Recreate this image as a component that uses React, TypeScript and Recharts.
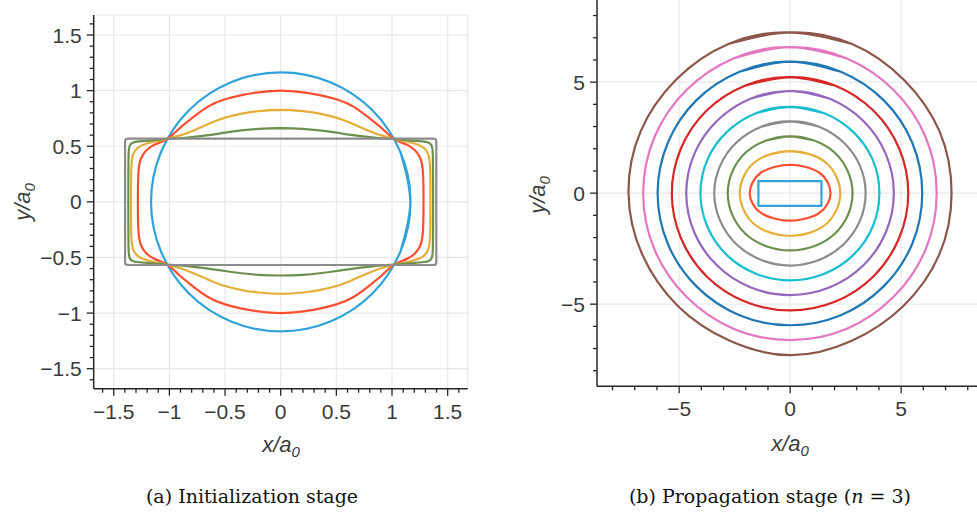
import React from 'react';
import { ComposedChart, Line, XAxis, YAxis, CartesianGrid } from 'recharts';

type Pt = [number, number];

// ---------- Panel (a): initialization stage ----------
const leftXTicksMajor = [-1.5, -1, -0.5, 0, 0.5, 1, 1.5];
const leftTicksAll = [
  -1.6, -1.5, -1.4, -1.3, -1.2, -1.1, -1, -0.9, -0.8, -0.7, -0.6, -0.5, -0.4, -0.3, -0.2, -0.1, 0,
  0.1, 0.2, 0.3, 0.4, 0.5, 0.6, 0.7, 0.8, 0.9, 1, 1.1, 1.2, 1.3, 1.4, 1.5, 1.6,
];
const leftDomain: [number, number] = [-1.68, 1.68];
const leftGrid = [-1.5, -1, -0.5, 0, 0.5, 1, 1.5, 1.68];

const leftBlue: Pt[] = [
  [1.076, -0.446], [1.165, 0], [1.076, 0.446], [0.824, 0.824], [0.446, 1.076], [0, 1.165],
  [-0.446, 1.076], [-0.824, 0.824], [-1.076, 0.446], [-1.165, 0], [-1.076, -0.446],
  [-0.824, -0.824], [-0.446, -1.076], [0, -1.165], [0.446, -1.076], [0.824, -0.824],
  [1.076, -0.446], [1.165, 0], [1.076, 0.446],
];

const leftRed: Pt[] = [
  [-0.2, 0.985], [0, 1.0], [0.2, 0.985], [0.35, 0.96], [0.5, 0.922], [0.65, 0.858], [0.8, 0.75],
  [0.91, 0.66], [1.02, 0.565], [1.13, 0.515], [1.21, 0.46], [1.255, 0.39], [1.275, 0.3],
  [1.282, 0.15], [1.283, 0], [1.282, -0.15], [1.275, -0.3], [1.255, -0.39], [1.21, -0.46],
  [1.13, -0.515], [1.02, -0.565], [0.91, -0.66], [0.8, -0.75], [0.65, -0.858], [0.5, -0.922],
  [0.35, -0.96], [0.2, -0.985], [0, -1.0], [-0.2, -0.985], [-0.35, -0.96], [-0.5, -0.922],
  [-0.65, -0.858], [-0.8, -0.75], [-0.91, -0.66], [-1.02, -0.565], [-1.13, -0.515],
  [-1.21, -0.46], [-1.255, -0.39], [-1.275, -0.3], [-1.282, -0.15], [-1.283, 0],
  [-1.282, 0.15], [-1.275, 0.3], [-1.255, 0.39], [-1.21, 0.46], [-1.13, 0.515],
  [-1.02, 0.565], [-0.91, 0.66], [-0.8, 0.75], [-0.65, 0.858], [-0.5, 0.922], [-0.35, 0.96],
  [-0.2, 0.985], [0, 1.0], [0.2, 0.985],
];

const leftYellow: Pt[] = [
  [-0.2, 0.815], [0, 0.827], [0.2, 0.815], [0.35, 0.793], [0.5, 0.757], [0.65, 0.7],
  [0.8, 0.635], [0.91, 0.595], [1.02, 0.565], [1.12, 0.545], [1.21, 0.522], [1.285, 0.485],
  [1.328, 0.42], [1.342, 0.3], [1.345, 0.15], [1.345, 0], [1.345, -0.15], [1.342, -0.3],
  [1.328, -0.42], [1.285, -0.485], [1.21, -0.522], [1.12, -0.545], [1.02, -0.565],
  [0.91, -0.595], [0.8, -0.635], [0.65, -0.7], [0.5, -0.757], [0.35, -0.793], [0.2, -0.815],
  [0, -0.827], [-0.2, -0.815], [-0.35, -0.793], [-0.5, -0.757], [-0.65, -0.7], [-0.8, -0.635],
  [-0.91, -0.595], [-1.02, -0.565], [-1.12, -0.545], [-1.21, -0.522], [-1.285, -0.485],
  [-1.328, -0.42], [-1.342, -0.3], [-1.345, -0.15], [-1.345, 0], [-1.345, 0.15],
  [-1.342, 0.3], [-1.328, 0.42], [-1.285, 0.485], [-1.21, 0.522], [-1.12, 0.545],
  [-1.02, 0.565], [-0.91, 0.595], [-0.8, 0.635], [-0.65, 0.7], [-0.5, 0.757], [-0.35, 0.793],
  [-0.2, 0.815], [0, 0.827], [0.2, 0.815],
];

const leftGreen: Pt[] = [
  [-0.2, 0.656], [0, 0.662], [0.2, 0.656], [0.35, 0.642], [0.5, 0.622], [0.65, 0.6],
  [0.8, 0.582], [0.91, 0.572], [1.02, 0.565], [1.15, 0.553], [1.27, 0.543], [1.33, 0.532],
  [1.356, 0.505], [1.366, 0.44], [1.368, 0.3], [1.369, 0.15], [1.369, 0], [1.369, -0.15],
  [1.368, -0.3], [1.366, -0.44], [1.356, -0.505], [1.33, -0.532], [1.27, -0.543],
  [1.15, -0.553], [1.02, -0.565], [0.91, -0.572], [0.8, -0.582], [0.65, -0.6], [0.5, -0.622],
  [0.35, -0.642], [0.2, -0.656], [0, -0.662], [-0.2, -0.656], [-0.35, -0.642], [-0.5, -0.622],
  [-0.65, -0.6], [-0.8, -0.582], [-0.91, -0.572], [-1.02, -0.565], [-1.15, -0.553],
  [-1.27, -0.543], [-1.33, -0.532], [-1.356, -0.505], [-1.366, -0.44], [-1.368, -0.3],
  [-1.369, -0.15], [-1.369, 0], [-1.369, 0.15], [-1.368, 0.3], [-1.366, 0.44],
  [-1.356, 0.505], [-1.33, 0.532], [-1.27, 0.543], [-1.15, 0.553], [-1.02, 0.565],
  [-0.91, 0.572], [-0.8, 0.582], [-0.65, 0.6], [-0.5, 0.622], [-0.35, 0.642], [-0.2, 0.656],
  [0, 0.662], [0.2, 0.656],
];

const leftGray: Pt[] = [
  [-1.375, 0.568], [1.375, 0.568], [1.393, 0.562], [1.398, 0.545], [1.398, -0.545],
  [1.393, -0.562], [1.375, -0.568], [-1.375, -0.568], [-1.393, -0.562], [-1.398, -0.545],
  [-1.398, 0.545], [-1.393, 0.562], [-1.375, 0.568],
];

// ---------- Panel (b): propagation stage ----------
const rightTicksMajor = [-5, 0, 5];
const rightTicksAll = [-8, -7, -6, -5, -4, -3, -2, -1, 0, 1, 2, 3, 4, 5, 6, 7, 8];
const rightDomain: [number, number] = [-8.7, 8.7];
const rightGrid = [-5, 0, 5];

const rRect: Pt[] = [[-1.43, 0.54], [1.41, 0.54], [1.41, -0.57], [-1.43, -0.57], [-1.43, 0.54]];
const rOrange: Pt[] = [
  [-0.71, 1.18], [0, 1.28], [0.71, 1.18], [1.32, 0.92], [1.69, 0.49], [1.82, 0], [1.69, -0.48],
  [1.32, -0.89], [0.71, -1.14], [0, -1.24], [-0.71, -1.14], [-1.32, -0.89], [-1.69, -0.48],
  [-1.82, 0], [-1.69, 0.49], [-1.32, 0.92], [-0.71, 1.18], [0, 1.28], [0.71, 1.18],
];
const rYellow: Pt[] = [
  [-0.87, 1.76], [0, 1.89], [0.87, 1.76], [1.62, 1.37], [2.09, 0.73], [2.26, 0], [2.09, -0.74],
  [1.62, -1.39], [0.87, -1.79], [0, -1.93], [-0.87, -1.79], [-1.63, -1.39], [-2.1, -0.74],
  [-2.27, 0], [-2.1, 0.73], [-1.63, 1.37], [-0.87, 1.76], [0, 1.89], [0.87, 1.76],
];
const rGreen: Pt[] = [
  [-1.08, 2.37], [0, 2.56], [1.08, 2.37], [2.0, 1.83], [2.6, 0.98], [2.81, 0], [2.6, -0.99],
  [2.0, -1.84], [1.08, -2.39], [0, -2.58], [-1.08, -2.39], [-2.0, -1.84], [-2.6, -0.99],
  [-2.81, 0], [-2.6, 0.98], [-2.0, 1.83], [-1.08, 2.37], [0, 2.56], [1.08, 2.37],
];
const rGray: Pt[] = [
  [-1.3, 2.99], [0, 3.23], [1.3, 2.99], [2.4, 2.29], [3.14, 1.24], [3.4, 0], [3.14, -1.25],
  [2.4, -2.31], [1.3, -3.01], [0, -3.26], [-1.3, -3.01], [-2.41, -2.31], [-3.15, -1.25],
  [-3.42, 0], [-3.15, 1.24], [-2.41, 2.29], [-1.3, 2.99], [0, 3.23], [1.3, 2.99],
];
const rCyan: Pt[] = [
  [-1.54, 3.6], [0, 3.89], [1.54, 3.6], [2.85, 2.75], [3.72, 1.5], [4.02, 0], [3.72, -1.5],
  [2.85, -2.78], [1.54, -3.63], [0, -3.93], [-1.54, -3.63], [-2.86, -2.78], [-3.73, -1.5],
  [-4.04, 0], [-3.73, 1.5], [-2.86, 2.75], [-1.54, 3.6], [0, 3.89], [1.54, 3.6],
];
const rPurple: Pt[] = [
  [-1.79, 4.25], [0, 4.6], [1.79, 4.25], [3.3, 3.25], [4.31, 1.76], [4.67, 0], [4.31, -1.76],
  [3.3, -3.25], [1.79, -4.24], [0, -4.59], [-1.79, -4.24], [-3.3, -3.25], [-4.32, -1.76],
  [-4.68, 0], [-4.32, 1.76], [-3.3, 3.25], [-1.79, 4.25], [0, 4.6], [1.79, 4.25],
];
const rRed: Pt[] = [
  [-2.04, 4.84], [0, 5.23], [2.04, 4.84], [3.76, 3.71], [4.91, 2.01], [5.32, 0], [4.91, -2.02],
  [3.76, -3.74], [2.04, -4.88], [0, -5.28], [-2.04, -4.88], [-3.77, -3.74], [-4.92, -2.02],
  [-5.33, 0], [-4.92, 2.01], [-3.77, 3.71], [-2.04, 4.84], [0, 5.23], [2.04, 4.84],
];
const rBlue: Pt[] = [
  [-2.28, 5.47], [0, 5.92], [2.28, 5.47], [4.21, 4.19], [5.5, 2.27], [5.95, 0], [5.5, -2.28],
  [4.21, -4.2], [2.28, -5.5], [0, -5.95], [-2.28, -5.5], [-4.22, -4.2], [-5.51, -2.28],
  [-5.97, 0], [-5.51, 2.27], [-4.22, 4.19], [-2.28, 5.47], [0, 5.92], [2.28, 5.47],
];
const rPink: Pt[] = [
  [-2.53, 6.08], [0, 6.58], [2.53, 6.08], [4.66, 4.65], [6.1, 2.53], [6.6, 0], [6.1, -2.54],
  [4.66, -4.67], [2.53, -6.12], [0, -6.62], [-2.53, -6.12], [-4.67, -4.67], [-6.11, -2.54],
  [-6.62, 0], [-6.11, 2.53], [-4.67, 4.65], [-2.53, 6.08], [0, 6.58], [2.53, 6.08],
];
const rBrown: Pt[] = [
  [-2.78, 6.72], [0, 7.24], [2.79, 6.72], [5.13, 5.1], [6.73, 2.78], [7.27, 0], [6.72, -2.76],
  [5.1, -5.08], [2.75, -6.66], [0, -7.3], [-2.74, -6.64], [-5.06, -5.08], [-6.68, -2.72],
  [-7.28, 0], [-6.74, 2.77], [-5.13, 5.12], [-2.78, 6.72], [0, 7.24], [2.79, 6.72],
];

type Series = { id: string; color: string; curve: 'natural' | 'linear'; pts: Pt[] };

const leftSeries: Series[] = [
  { id: 'l1', color: '#30a2da', curve: 'natural', pts: leftBlue },
  { id: 'l2', color: '#fc4f30', curve: 'natural', pts: leftRed },
  { id: 'l3', color: '#e5ae38', curve: 'natural', pts: leftYellow },
  { id: 'l4', color: '#6d904f', curve: 'natural', pts: leftGreen },
  { id: 'l5', color: '#8b8b8b', curve: 'linear', pts: leftGray },
];

const rightSeries: Series[] = [
  { id: 'r1', color: '#30a2da', curve: 'linear', pts: rRect },
  { id: 'r2', color: '#fc4f30', curve: 'natural', pts: rOrange },
  { id: 'r3', color: '#e5ae38', curve: 'natural', pts: rYellow },
  { id: 'r4', color: '#6d904f', curve: 'natural', pts: rGreen },
  { id: 'r5', color: '#8b8b8b', curve: 'natural', pts: rGray },
  { id: 'r6', color: '#17becf', curve: 'natural', pts: rCyan },
  { id: 'r7', color: '#9467bd', curve: 'natural', pts: rPurple },
  { id: 'r8', color: '#d62728', curve: 'natural', pts: rRed },
  { id: 'r9', color: '#1f77b4', curve: 'natural', pts: rBlue },
  { id: 'r10', color: '#e377c2', curve: 'natural', pts: rPink },
  { id: 'r11', color: '#8c564b', curve: 'natural', pts: rBrown },
];

const SANS = '"Liberation Sans", Arial, Helvetica, sans-serif';
const SERIF = '"DejaVu Serif", "Liberation Serif", serif';
const AXIS = '#262626';
const LABEL = '#3a3a3a';

const fmt = (v: number) => (v < 0 ? '\u2212' + String(Math.abs(v)) : String(v));
const toPts = (arr: Pt[]) => arr.map(([x, y]) => ({ x, y }));

const XTick = (props: any) => {
  const { x, y, payload, majors } = props;
  const major = majors.includes(payload.value);
  return (
    <g>
      <line x1={x} y1={y} x2={x} y2={y + (major ? 7 : 4)} stroke={AXIS} strokeWidth={1.3} />
      {major && (
        <text x={x} y={y + 30} textAnchor="middle" fontSize={21} fill={LABEL} fontFamily={SANS}>
          {fmt(payload.value)}
        </text>
      )}
    </g>
  );
};

const YTick = (props: any) => {
  const { x, y, payload, majors } = props;
  const major = majors.includes(payload.value);
  return (
    <g>
      <line x1={x} y1={y} x2={x - (major ? 7 : 4)} y2={y} stroke={AXIS} strokeWidth={1.3} />
      {major && (
        <text x={x - 12} y={y + 7.5} textAnchor="end" fontSize={21} fill={LABEL} fontFamily={SANS}>
          {fmt(payload.value)}
        </text>
      )}
    </g>
  );
};

type PanelProps = {
  left: number;
  width: number;
  margin: { top: number; right: number; bottom: number; left: number };
  yWidth: number;
  domain: [number, number];
  ticks: number[];
  majors: number[];
  grid: number[];
  series: Series[];
};

const Panel = ({ left, width, margin, yWidth, domain, ticks, majors, grid, series }: PanelProps) => (
  <div style={{ position: 'absolute', left, top: 0 }}>
    <ComposedChart width={width} height={512} margin={margin}>
      <CartesianGrid stroke="#e8e8e8" strokeWidth={1.2} horizontalValues={grid} verticalValues={grid} />
      <XAxis
        type="number"
        dataKey="x"
        domain={domain}
        allowDataOverflow
        ticks={ticks}
        interval={0}
        tickSize={0}
        tickMargin={0}
        height={30}
        axisLine={{ stroke: AXIS, strokeWidth: 1.5 }}
        tickLine={false}
        tick={<XTick majors={majors} />}
      />
      <YAxis
        type="number"
        dataKey="y"
        domain={domain}
        allowDataOverflow
        ticks={ticks}
        interval={0}
        tickSize={0}
        tickMargin={0}
        width={yWidth}
        axisLine={{ stroke: AXIS, strokeWidth: 1.5 }}
        tickLine={false}
        tick={<YTick majors={majors} />}
      />
      {series.map((s) => (
        <Line
          key={s.id}
          data={toPts(s.pts)}
          dataKey="y"
          type={s.curve}
          stroke={s.color}
          strokeWidth={2.2}
          strokeLinejoin="round"
          strokeLinecap="round"
          dot={false}
          activeDot={false}
          isAnimationActive={false}
        />
      ))}
    </ComposedChart>
  </div>
);

const AxisLabel = ({ cx, cy, axis, rotate }: { cx: number; cy: number; axis: string; rotate?: boolean }) => (
  <div
    style={{
      position: 'absolute',
      left: cx - 40,
      top: cy - 16,
      width: 80,
      height: 32,
      lineHeight: '32px',
      textAlign: 'center',
      fontFamily: SANS,
      fontStyle: 'italic',
      fontSize: 22,
      color: LABEL,
      transform: rotate ? 'rotate(-90deg)' : undefined,
      whiteSpace: 'nowrap',
    }}
  >
    {axis}/a<span style={{ fontSize: 15, position: 'relative', top: 5 }}>0</span>
  </div>
);

export default function App() {
  return (
    <div
      style={{
        position: 'fixed',
        left: 0,
        top: 0,
        width: 977,
        height: 512,
        overflow: 'hidden',
        background: '#ffffff',
      }}
    >
      <Panel
        left={0}
        width={480}
        margin={{ top: 15, right: 12.3, bottom: 93.3, left: 0 }}
        yWidth={93.7}
        domain={leftDomain}
        ticks={leftTicksAll}
        majors={leftXTicksMajor}
        grid={leftGrid}
        series={leftSeries}
      />
      <Panel
        left={500}
        width={490}
        margin={{ top: 0, right: 6.7, bottom: 95.7, left: 0 }}
        yWidth={97}
        domain={rightDomain}
        ticks={rightTicksAll}
        majors={rightTicksMajor}
        grid={rightGrid}
        series={rightSeries}
      />
      <AxisLabel cx={281} cy={445} axis="x" />
      <AxisLabel cx={23} cy={202} axis="y" rotate />
      <AxisLabel cx={790} cy={444} axis="x" />
      <AxisLabel cx={538} cy={195} axis="y" rotate />
      <div
        style={{
          position: 'absolute',
          left: 102,
          top: 484,
          width: 300,
          textAlign: 'center',
          fontFamily: SERIF,
          fontSize: 19,
          lineHeight: '24px',
          color: '#111',
        }}
      >
        (a) Initialization stage
      </div>
      <div
        style={{
          position: 'absolute',
          left: 570,
          top: 484,
          width: 400,
          textAlign: 'center',
          fontFamily: SERIF,
          fontSize: 19,
          lineHeight: '24px',
          color: '#111',
        }}
      >
        (b) Propagation stage (<i>n</i> = 3)
      </div>
    </div>
  );
}
